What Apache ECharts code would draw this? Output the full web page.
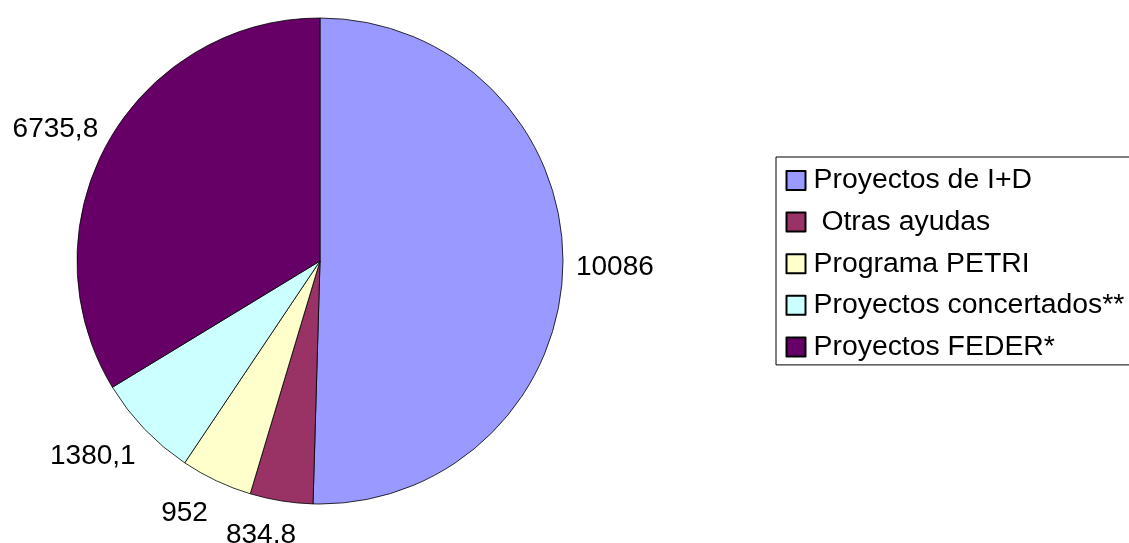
<!DOCTYPE html>
<html>
<head>
<meta charset="utf-8">
<script src="https://cdn.jsdelivr.net/npm/echarts@6/dist/echarts.min.js"></script>
<style>
html,body{margin:0;padding:0;background:#fff;}
#chart{width:1129px;height:543px;}
</style>
</head>
<body>
<div id="chart"></div>
<script>
const categories = ['Proyectos de I+D', ' Otras ayudas', 'Programa PETRI', 'Proyectos concertados**', 'Proyectos FEDER*'];
const values = [10086, 834.8, 952, 1380.1, 6735.8];
const labels = ['10086', '834,8', '952', '1380,1', '6735,8'];
const colors = ['#9999FF', '#993366', '#FFFFCC', '#CCFFFF', '#660066'];

const chart = echarts.init(document.getElementById('chart'), null, {renderer: 'canvas'});
const font = 'Liberation Sans, Arial, sans-serif';
// small nudges so labels sit where the original spreadsheet placed them
const labelNudge = [[0, 3], [21, 26], [0, 25], [2, 22], [2, -9]];
chart.setOption({
  animation: false,
  color: colors,
  legend: {
    orient: 'vertical',
    left: 776,
    top: 157,
    padding: [8.5, 60, 3, 9.5],
    borderColor: '#000',
    borderWidth: 1,
    itemWidth: 19,
    itemHeight: 19,
    itemGap: 11.6,
    icon: 'rect',
    selectedMode: false,
    textStyle: {fontFamily: font, fontSize: 28.4, color: '#000', lineHeight: 30, padding: [0, 0, 0, 3]},
    data: categories
  },
  series: [{
    type: 'pie',
    center: [320, 261],
    radius: 243,
    startAngle: 90,
    clockwise: true,
    avoidLabelOverlap: false,
    itemStyle: {borderColor: '#000', borderWidth: 0.8},
    label: {
      show: true,
      position: 'outside',
      fontFamily: font,
      fontSize: 28,
      color: '#000',
      formatter: p => labels[p.dataIndex]
    },
    labelLine: {show: false, length: 8, length2: 0},
    labelLayout: p => ({dx: labelNudge[p.dataIndex][0], dy: labelNudge[p.dataIndex][1], hideOverlap: false}),
    emphasis: {disabled: true},
    data: categories.map((c, i) => ({name: c, value: values[i]}))
  }]
});
</script>
</body>
</html>
